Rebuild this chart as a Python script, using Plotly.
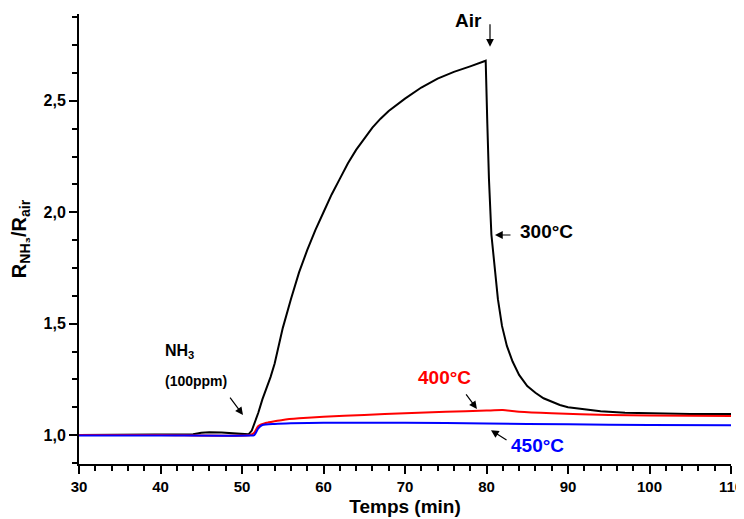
import plotly.graph_objects as go

# ---- data ----
t300 = [30, 35, 40, 44, 45, 46, 47.5, 49, 50, 50.8, 51.2, 51.6, 52, 52.5, 53, 53.5, 54, 54.5, 55, 56, 57, 58, 59, 60,
        61, 62, 63, 64, 65, 66, 67, 68, 70, 72, 74, 76, 78, 79.5, 79.9,
        80.1, 80.3, 80.6, 81, 81.4, 81.9, 82.5, 83.2, 84, 85, 86, 87, 88, 89, 90, 92, 94, 97, 100, 105, 110]
r300 = [1.0, 1.002, 1.003, 1.004, 1.01, 1.012, 1.011, 1.007, 1.003, 1.003, 1.02, 1.06, 1.1, 1.16, 1.21, 1.26, 1.32, 1.4, 1.48, 1.61, 1.73, 1.83, 1.92, 2.0,
        2.08, 2.15, 2.22, 2.28, 2.33, 2.38, 2.42, 2.455, 2.51, 2.56, 2.6, 2.63, 2.655, 2.675, 2.68,
        2.4, 2.15, 1.9, 1.74, 1.61, 1.49, 1.4, 1.33, 1.27, 1.22, 1.19, 1.165, 1.15, 1.135, 1.125, 1.115, 1.107, 1.1, 1.097, 1.095, 1.094]

t400 = [30, 40, 51, 51.5, 52, 53, 54, 55, 57, 60, 65, 70, 75, 80, 82, 84, 88, 95, 100, 110]
r400 = [1.0, 1.0, 1.0, 1.01, 1.04, 1.055, 1.062, 1.068, 1.075, 1.082, 1.09, 1.098, 1.104, 1.11, 1.112, 1.105, 1.098, 1.09, 1.088, 1.085]

t450 = [30, 40, 51, 51.5, 52, 52.5, 54, 56, 60, 70, 80, 90, 100, 110]
r450 = [0.998, 0.998, 0.998, 1.0, 1.03, 1.045, 1.05, 1.053, 1.055, 1.055, 1.052, 1.048, 1.045, 1.044]

x_tick_start, x_tick_step = 30, 10
y_tick_start, y_tick_step = 1.0, 0.5

FONT = "Liberation Sans"

fig = go.Figure()
fig.add_trace(go.Scatter(x=t300, y=r300, mode="lines", line=dict(color="black", width=2), name="300°C"))
fig.add_trace(go.Scatter(x=t400, y=r400, mode="lines", line=dict(color="#ff0000", width=2, shape="spline", smoothing=0.6), name="400°C"))
fig.add_trace(go.Scatter(x=t450, y=r450, mode="lines", line=dict(color="#0000ff", width=2, shape="spline", smoothing=0.6), name="450°C"))

def label(x, y, text, color="black", size=19):
    fig.add_annotation(x=x, y=y, xref="x", yref="y", text="<b>" + text + "</b>", showarrow=False,
                       font=dict(family=FONT, size=size, color=color))

def arrow(x0, y0, x1, y1):
    fig.add_annotation(x=x1, y=y1, ax=x0, ay=y0, xref="x", yref="y", axref="x", ayref="y", text="",
                       showarrow=True, arrowhead=2, arrowsize=1.3, arrowwidth=1.2, arrowcolor="black")

label(77.85, 2.86, "Air")
arrow(80.43, 2.851, 80.43, 2.743)
label(87.3, 1.912, "300°C")
arrow(83.13, 1.898, 81.04, 1.898)
label(74.8, 1.26, "400°C", color="#ff0000")
arrow(77.36, 1.189, 78.83, 1.117)
label(86.2, 0.951, "450°C", color="#0000ff")
arrow(82.64, 0.973, 80.55, 1.022)
label(42.3, 1.377, "NH<sub>3</sub>", size=16)
label(44.4, 1.243, "(100ppm)", size=14)
arrow(48.4, 1.175, 50.12, 1.09)

# page body has an 8px default margin, so the figure is sized/offset accordingly
fig.update_layout(
    width=736, height=511,
    margin=dict(l=71, r=13, t=6, b=55),
    paper_bgcolor="white", plot_bgcolor="white",
    showlegend=False,
    separators=",.",
    font=dict(family=FONT, color="black"),
)
fig.update_xaxes(
    range=[30, 110], tickmode="linear", tick0=x_tick_start, dtick=x_tick_step,
    showgrid=False, zeroline=False, automargin=False, ticklabeloverflow="allow",
    showline=True, linecolor="black", linewidth=2,
    ticks="outside", ticklen=8, tickwidth=2, tickcolor="black",
    tickfont=dict(family=FONT, size=15, color="black", weight="bold"),
    minor=dict(dtick=2, ticks="outside", ticklen=5, tickwidth=2, tickcolor="black", showgrid=False),
    title=dict(text="<b>Temps (min)</b>", font=dict(family=FONT, size=19), standoff=6),
)
fig.update_yaxes(
    range=[0.87, 2.89], tickmode="linear", tick0=y_tick_start, dtick=y_tick_step, tickformat=".1f",
    showgrid=False, zeroline=False, automargin=False,
    showline=True, linecolor="black", linewidth=2,
    ticks="outside", ticklen=8, tickwidth=2, tickcolor="black",
    tickfont=dict(family=FONT, size=16, color="black", weight="bold"),
    minor=dict(dtick=0.125, ticks="outside", ticklen=5, tickwidth=2, tickcolor="black", showgrid=False),
    title=dict(text="<b>R<sub>NH₃</sub>/R<sub>air</sub></b>", font=dict(family=FONT, size=20), standoff=16),
)

# hide page scrollbars so the rightmost tick label is not covered
fig.write_html("out.html",
               post_script="document.documentElement.style.overflow='hidden';document.body.style.overflow='hidden';")
